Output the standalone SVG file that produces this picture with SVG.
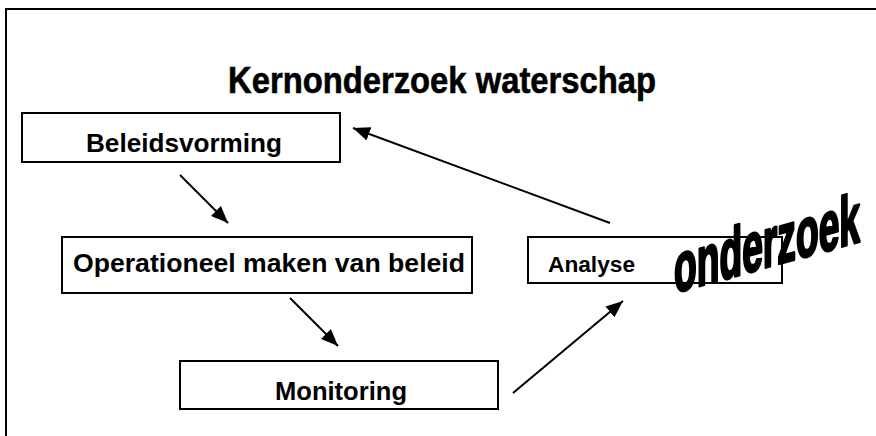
<svg xmlns="http://www.w3.org/2000/svg" width="876" height="436" viewBox="0 0 876 436">
<defs>
<style>
.box{fill:#fff;stroke:#000;stroke-width:2}
.lbl{font-family:"Liberation Sans",Arial,sans-serif;font-weight:bold;fill:#000}
.conn{stroke:#000;stroke-width:2;fill:none;marker-end:url(#ah)}
</style>
<marker id="ah" markerUnits="userSpaceOnUse" markerWidth="18" markerHeight="14" refX="17" refY="7" orient="auto">
<path d="M0,0 L17,7 L0,14 z" fill="#000"/>
</marker>
</defs>
<rect width="876" height="436" fill="#fff"/>
<rect x="6" y="9" width="880" height="440" fill="none" stroke="#000" stroke-width="2"/>
<text class="lbl" x="228" y="93" font-size="36" textLength="428" lengthAdjust="spacingAndGlyphs" stroke="#000" stroke-width="0.6">Kernonderzoek waterschap</text>
<g id="connectors">
<line class="conn" x1="180" y1="175" x2="228" y2="223"/>
<line class="conn" x1="290" y1="298" x2="338" y2="346"/>
<line class="conn" x1="513" y1="393" x2="623" y2="301"/>
<line class="conn" x1="610" y1="223" x2="353" y2="128"/>
</g>
<g id="beleidsvorming">
<rect class="box" x="22" y="113" width="318" height="49"/>
<text class="lbl" x="86" y="152" font-size="26" textLength="196" lengthAdjust="spacingAndGlyphs">Beleidsvorming</text>
</g>
<g id="operationeel">
<rect class="box" x="62" y="237" width="410" height="56"/>
<text class="lbl" x="73" y="272" font-size="26.6" textLength="392" lengthAdjust="spacingAndGlyphs">Operationeel maken van beleid</text>
</g>
<g id="monitoring">
<rect class="box" x="180" y="361" width="318" height="48"/>
<text class="lbl" x="275" y="400" font-size="26" textLength="132" lengthAdjust="spacingAndGlyphs">Monitoring</text>
</g>
<g id="analyse">
<rect class="box" x="528" y="237" width="254" height="46"/>
<text class="lbl" x="548" y="272" font-size="22" textLength="87" lengthAdjust="spacingAndGlyphs">Analyse</text>
</g>
<g id="onderzoek">
<text class="lbl" transform="translate(674,293) skewY(-15.5)" x="0" y="0" font-size="70" textLength="186" lengthAdjust="spacingAndGlyphs" stroke="#000" stroke-width="3" stroke-linejoin="round">onderzoek</text>
</g>
</svg>
